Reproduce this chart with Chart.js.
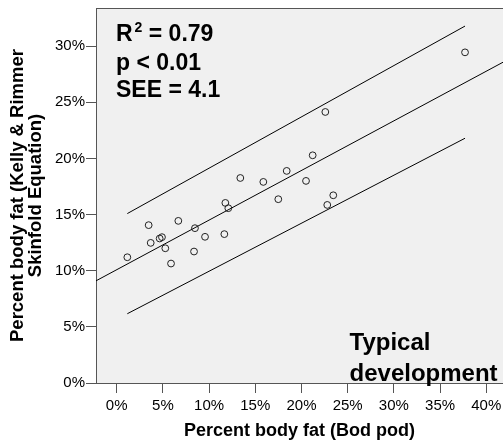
<!DOCTYPE html>
<html>
<head>
<meta charset="utf-8">
<script src="https://cdn.jsdelivr.net/npm/chart.js@4"></script>
<style>
  html, body { margin: 0; padding: 0; background: #ffffff; overflow: hidden; }
  #wrap { position: relative; width: 503px; height: 447px; }
</style>
</head>
<body>
<div id="wrap"><canvas id="c"></canvas></div>
<script>
// ---- data ----
const bodPod   = [1.15, 3.46, 3.68, 4.65, 4.90, 5.26, 5.88, 6.67, 8.47, 8.37, 9.56, 11.65, 11.76, 12.08, 13.38, 15.87, 17.49, 18.40, 20.49, 21.21, 22.58, 22.79, 23.44, 37.70];
const skinfold = [11.20, 14.06, 12.48, 12.87, 12.99, 12.00, 10.64, 14.44, 13.79, 11.71, 13.02, 13.26, 16.04, 15.57, 18.26, 17.91, 16.37, 18.89, 18.00, 20.28, 24.14, 15.86, 16.72, 29.45];

const fitX   = [-2.24, 41.81];
const fitY   = [9.10, 28.57];
const upperX = [1.15, 37.70];
const upperY = [15.09, 31.79];
const lowerX = [1.15, 37.70];
const lowerY = [6.17, 21.80];

const xTitle = 'Percent body fat (Bod pod)';
const yTitle = ['Percent body fat (Kelly & Rimmer', 'Skinfold Equation)'];
const statLines = ['R', '2', ' = 0.79', 'p < 0.01', 'SEE = 4.1'];
const groupLabel = ['Typical', 'development'];

const FONT = '"Liberation Sans", Arial, sans-serif';
const FRAME = '#555555';

function pts(xs, ys) { return xs.map((x, i) => ({ x: x, y: ys[i] })); }

const frameAndText = {
  id: 'frameAndText',
  beforeDraw(chart) {
    const { ctx, chartArea: a } = chart;
    ctx.save();
    ctx.fillStyle = '#f0f0f0';
    ctx.fillRect(a.left, a.top, a.right - a.left, a.bottom - a.top);
    ctx.restore();
  },
  afterDraw(chart) {
    const { ctx, chartArea: a } = chart;
    ctx.save();
    // top frame line
    ctx.strokeStyle = FRAME;
    ctx.lineWidth = 1;
    ctx.beginPath();
    ctx.moveTo(a.left, a.top + 0.5);
    ctx.lineTo(a.right, a.top + 0.5);
    ctx.stroke();

    ctx.fillStyle = '#000000';
    ctx.textBaseline = 'alphabetic';
    ctx.textAlign = 'left';
    const big = 'bold 23px ' + FONT;
    const sup = 'bold 14px ' + FONT;
    const x0 = a.left + 20;
    ctx.font = big;
    ctx.fillText(statLines[0], x0, a.top + 33);
    let w = ctx.measureText(statLines[0]).width;
    ctx.font = sup;
    ctx.fillText(statLines[1], x0 + w + 2, a.top + 23.5);
    const w2 = ctx.measureText(statLines[1]).width;
    ctx.font = big;
    ctx.fillText(statLines[2], x0 + w + 2 + w2, a.top + 33);
    ctx.fillText(statLines[3], x0, a.top + 61.5);
    ctx.fillText(statLines[4], x0, a.top + 88.5);

    ctx.font = 'bold 24px ' + FONT;
    const gx = chart.scales.x.getPixelForValue(25.2);
    ctx.fillText(groupLabel[0], gx, a.bottom - 33);
    ctx.fillText(groupLabel[1], gx, a.bottom - 2);
    ctx.restore();
  }
};

new Chart(document.getElementById('c'), {
  type: 'scatter',
  data: {
    datasets: [
      {
        label: 'Participants',
        data: pts(bodPod, skinfold),
        showLine: false,
        pointRadius: 3.4,
        pointBorderWidth: 1,
        pointBorderColor: '#222222',
        pointBackgroundColor: 'rgba(0,0,0,0)',
        order: 0
      },
      {
        label: 'Fit',
        data: pts(fitX, fitY),
        showLine: true,
        borderColor: '#000000',
        borderWidth: 1,
        pointRadius: 0,
        order: 1
      },
      {
        label: 'Upper',
        data: pts(upperX, upperY),
        showLine: true,
        borderColor: '#000000',
        borderWidth: 1,
        pointRadius: 0,
        order: 1
      },
      {
        label: 'Lower',
        data: pts(lowerX, lowerY),
        showLine: true,
        borderColor: '#000000',
        borderWidth: 1,
        pointRadius: 0,
        order: 1
      }
    ]
  },
  options: {
    responsive: true,
    maintainAspectRatio: false,
    animation: false,
    devicePixelRatio: 1,
    layout: { autoPadding: false, padding: { top: 8, right: 0, left: 0, bottom: 0 } },
    plugins: {
      legend: { display: false },
      tooltip: { enabled: false }
    },
    scales: {
      x: {
        type: 'linear',
        position: 'bottom',
        min: -2.24,
        max: 41.81,
        afterFit(scale) { scale.height = 64; scale.paddingLeft = 0; scale.paddingRight = 0; },
        border: { display: true, color: FRAME, width: 1 },
        grid: { drawOnChartArea: false, drawTicks: true, tickLength: 10, tickColor: FRAME, color: FRAME },
        ticks: {
          stepSize: 5,
          includeBounds: false,
          autoSkip: false,
          maxRotation: 0,
          padding: 4,
          color: '#000000',
          font: { family: FONT, size: 15 },
          callback: (v) => v + '%'
        },
        title: {
          display: true,
          text: xTitle,
          color: '#000000',
          font: { family: FONT, size: 18, weight: 'bold', lineHeight: 1 },
          padding: { top: 0, bottom: 7 }
        }
      },
      y: {
        type: 'linear',
        position: 'left',
        min: 0,
        max: 33.4,
        afterFit(scale) { scale.width = 96; scale.paddingTop = 0; scale.paddingBottom = 0; },
        border: { display: true, color: FRAME, width: 1 },
        grid: { drawOnChartArea: false, drawTicks: true, tickLength: 10, tickColor: FRAME, color: FRAME },
        ticks: {
          stepSize: 5,
          includeBounds: false,
          autoSkip: false,
          padding: 1,
          color: '#000000',
          font: { family: FONT, size: 15 },
          callback: (v) => v + '%'
        },
        title: {
          display: true,
          text: yTitle,
          color: '#000000',
          font: { family: FONT, size: 18.5, weight: 'bold', lineHeight: 17.5 / 18.5 },
          padding: { top: 9.5, bottom: 0 }
        }
      }
    }
  },
  plugins: [frameAndText]
});
</script>
</body>
</html>
